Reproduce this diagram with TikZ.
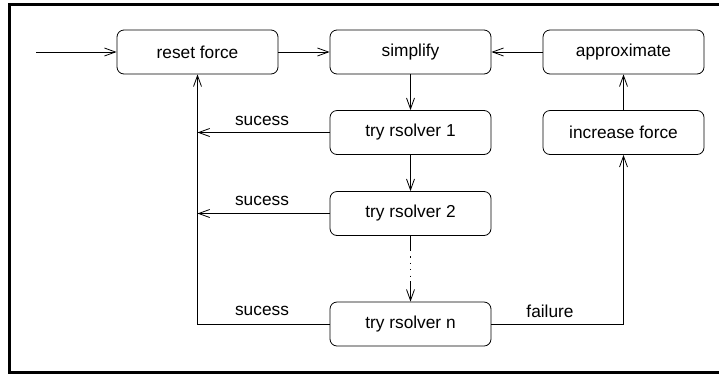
\documentclass[tikz,border=0pt]{standalone}
\usepackage{fontspec}
\setmainfont{Liberation Sans}
\usetikzlibrary{arrows.meta}
\begin{document}
\begin{tikzpicture}[x=1pt,y=-1pt,
  box/.style={draw, line width=0.8pt, rounded corners=7pt, minimum width=161pt, minimum height=44pt, inner sep=0pt, font=\fontsize{17.3}{20}\selectfont},
  lbl/.style={font=\fontsize{17.3}{20}\selectfont, inner sep=0pt},
  conn/.style={line width=0.8pt},
  arr/.style={conn, -{Straight Barb[length=11pt,width=8pt,line width=0.8pt]}}]
\useasboundingbox (0,0) rectangle (719,373);
\draw[line width=3pt] (760,4) -- (9.5,4) -- (9.5,372) -- (760,372);
\node[box] (reset) at (197.5,52) {reset force};
\node[box] (simp) at (410.5,52) {simplify};
\node[box] (approx) at (623.5,52) {approximate};
\node[box] (t1) at (410.5,132.5) {try rsolver 1};
\node[box] (inc) at (623.5,132.5) {increase force};
\node[box] (t2) at (410.5,213.5) {try rsolver 2};
\node[box] (tn) at (410.5,324) {try rsolver n};
\coordinate (start) at (36,52);
\coordinate (c1) at (197.5,132.5);
\coordinate (c2) at (197.5,213.5);
\coordinate (cn) at (197.5,324);
\coordinate (cf) at (623.5,324);
\coordinate (d1) at (410.5,250);
\coordinate (d2) at (410.5,281);
\draw[arr] (start) -- (reset);
\draw[arr] (reset) -- (simp);
\draw[arr] (approx) -- (simp);
\draw[arr] (simp) -- (t1);
\draw[arr] (t1) -- (t2);
\draw[arr] (inc) -- (approx);
\draw[arr] (t1) -- (c1);
\draw[arr] (t2) -- (c2);
\draw[conn] (t2.south) -- (d1);
\draw[conn, dash pattern=on 1.2pt off 5.2pt] (d1) -- (d2);
\draw[arr] (d2) -- (tn.north);
\draw[arr] (tn.west) -- (cn) -- (reset.south);
\draw[arr] (tn.east) -- (cf) -- (inc.south);
\node[lbl] (s1) at (262,121) {sucess};
\node[lbl] (s2) at (262,201) {sucess};
\node[lbl] (sn) at (262,311) {sucess};
\node[lbl] (fl) at (550,311) {failure};
\end{tikzpicture}
\end{document}
